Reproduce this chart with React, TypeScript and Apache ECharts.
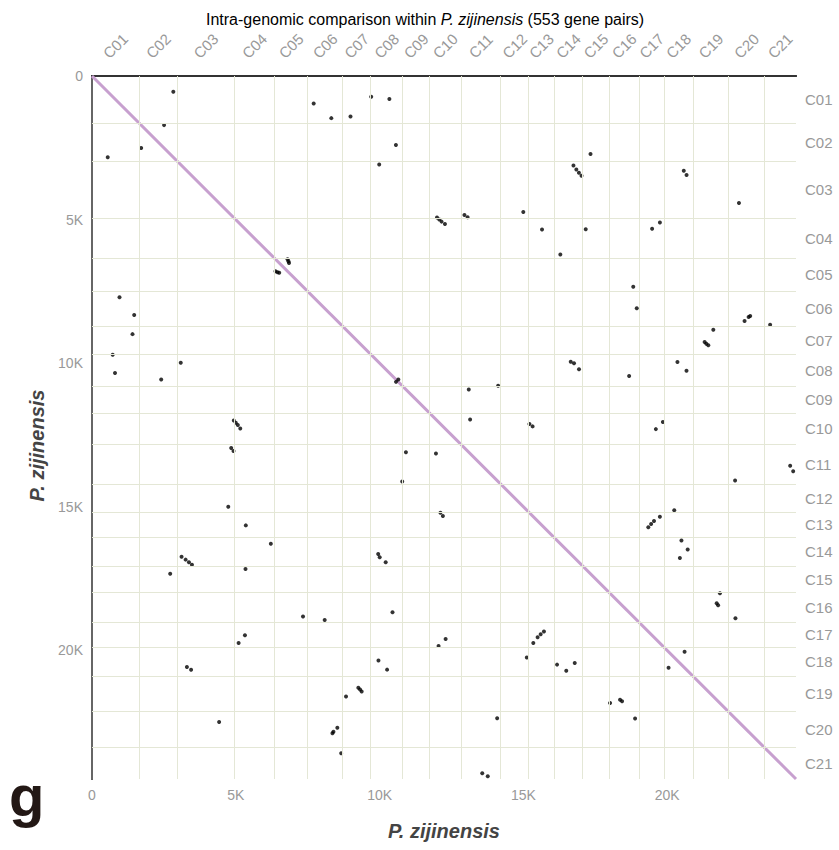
import React, { useEffect, useRef } from 'react';
import * as echarts from 'echarts';

// Chromosome names and their boundaries (cumulative gene index)
const chromosomes = ['C01', 'C02', 'C03', 'C04', 'C05', 'C06', 'C07', 'C08', 'C09', 'C10', 'C11', 'C12', 'C13', 'C14', 'C15', 'C16', 'C17', 'C18', 'C19', 'C20', 'C21'];
const boundaries = [0, 1630, 2975, 4945, 6350, 7490, 8710, 9685, 10795, 11735, 12825, 14210, 15180, 16058, 17063, 17973, 19027, 19882, 20900, 22133, 23376, 24478];
const genomeLength = 24478;
const tickStep = 5000;
const pairCount = 553;
const speciesName = 'P. zijinensis';

// Syntenic gene pairs read from the upper triangle [gene index X, gene index Y]
const pairs: [number, number][] = [
  [2827, 547],
  [7707, 957],
  [8321, 1467],
  [8988, 1409],
  [9708, 720],
  [10340, 800],
  [2505, 1710],
  [10567, 2406],
  [9986, 3085],
  [16740, 3115], [16840, 3255], [16930, 3370], [17020, 3475],
  [17333, 2719],
  [20576, 3300], [20673, 3445],
  [22495, 4420],
  [11995, 4930], [12075, 5000], [12155, 5070], [12272, 5155],
  [12950, 4840], [13060, 4920],
  [14996, 4738],
  [15647, 5348],
  [17167, 5337],
  [16284, 6218],
  [19475, 5318],
  [19746, 5098],
  [6800, 6380], [6830, 6450], [6850, 6510],
  [18819, 7337],
  [18941, 8090],
  [22690, 8530], [22830, 8395], [22885, 8360],
  [23578, 8664],
  [21602, 8832],
  [21300, 9260], [21360, 9320], [21430, 9377],
  [16645, 9950], [16760, 10003], [16933, 10212],
  [18675, 10449],
  [20355, 9960], [20670, 10260],
  [10650, 10570],
  [14121, 10786],
  [13100, 10915],
  [13147, 11959],
  [15210, 12115], [15320, 12200],
  [19850, 12050], [19605, 12295],
  [24275, 13570], [24380, 13760],
  [22360, 14087],
  [20245, 15118],
  [19746, 15344],
  [19343, 15714], [19440, 15600], [19541, 15494],
  [20495, 16170], [20712, 16490], [20440, 16785],
  [21834, 18013],
  [21720, 18360], [21770, 18430],
  [22373, 18883],
  [20604, 20047],
];

const FONT = 'Arial, "Liberation Sans", Helvetica, sans-serif';

export default function App() {
  const ref = useRef<HTMLDivElement>(null);

  useEffect(() => {
    if (!ref.current) return;
    const chart = echarts.init(ref.current, null, { renderer: 'svg' });

    const centers = chromosomes.map((_, i) => (boundaries[i] + boundaries[i + 1]) / 2);
    const nameAt = (v: number) => {
      const idx = centers.findIndex((c) => Math.abs(c - v) < 1e-6);
      return idx >= 0 ? chromosomes[idx] : '';
    };
    const points: number[][] = [];
    pairs.forEach(([a, b]) => {
      points.push([a, b]);
      points.push([b, a]);
    });
    const inner = boundaries.slice(1, -1);
    const gridLines: any[] = [];
    inner.forEach((b) => {
      gridLines.push({ xAxis: b });
      gridLines.push({ yAxis: b });
    });
    const kFmt = (v: number) => (v === 0 ? '0' : `${v / 1000}K`);

    const option: any = {
      animation: false,
      backgroundColor: '#ffffff',
      title: {
        text: `{a|Intra-genomic comparison within }{b|${speciesName}}{a| (${pairCount} gene pairs)}`,
        left: 201,
        top: 6,
        textStyle: {
          fontWeight: 'normal',
          rich: {
            a: { fontSize: 16, color: '#000', fontFamily: FONT, fontWeight: 'normal' },
            b: { fontSize: 16, color: '#000', fontFamily: FONT, fontStyle: 'italic', fontWeight: 'normal' },
          },
        },
      },
      grid: { left: 92, top: 76, width: 704, height: 703, containLabel: false },
      xAxis: [
        {
          type: 'value',
          position: 'bottom',
          min: 0,
          max: genomeLength,
          interval: tickStep,
          name: speciesName,
          nameLocation: 'middle',
          nameGap: 42,
          nameTextStyle: { fontSize: 20, fontWeight: 'bold', fontStyle: 'italic', color: '#444', fontFamily: FONT },
          axisLine: { show: true, lineStyle: { color: '#333', width: 2 } },
          axisTick: { show: false },
          splitLine: { show: false },
          axisLabel: { color: '#999', fontSize: 14, fontFamily: FONT, margin: 9, formatter: kFmt, showMaxLabel: false },
        },
        {
          type: 'value',
          position: 'top',
          min: 0,
          max: genomeLength,
          axisLine: { show: true, lineStyle: { color: '#333', width: 2 } },
          axisTick: { show: false },
          splitLine: { show: false },
          axisLabel: {
            customValues: centers,
            formatter: nameAt,
            rotate: 45,
            align: 'center',
            verticalAlign: 'middle',
            margin: 30,
            color: '#999',
            fontSize: 15,
            fontFamily: FONT,
          },
        },
      ],
      yAxis: [
        {
          type: 'value',
          position: 'left',
          inverse: true,
          min: 0,
          max: genomeLength,
          interval: tickStep,
          name: speciesName,
          nameLocation: 'middle',
          nameGap: 44,
          nameTextStyle: { fontSize: 20, fontWeight: 'bold', fontStyle: 'italic', color: '#444', fontFamily: FONT, padding: [0, 36, 0, 0] },
          axisLine: { show: true, lineStyle: { color: '#222', width: 2 } },
          axisTick: { show: false },
          splitLine: { show: false },
          axisLabel: { color: '#999', fontSize: 14, fontFamily: FONT, margin: 9, formatter: kFmt, showMaxLabel: false },
        },
        {
          type: 'value',
          position: 'right',
          inverse: true,
          min: 0,
          max: genomeLength,
          axisLine: { show: true, lineStyle: { color: '#666', width: 2 } },
          axisTick: { show: false },
          splitLine: { show: false },
          axisLabel: {
            customValues: centers,
            formatter: nameAt,
            margin: 9,
            color: '#999',
            fontSize: 15,
            fontFamily: FONT,
          },
        },
      ],
      series: [
        {
          type: 'scatter',
          name: 'boundaries',
          xAxisIndex: 0,
          yAxisIndex: 0,
          data: [],
          z: 1,
          silent: true,
          markLine: {
            silent: true,
            symbol: ['none', 'none'],
            label: { show: false },
            lineStyle: { color: '#e4e7d6', width: 1, type: 'solid' },
            emphasis: { disabled: true },
            animation: false,
            data: gridLines,
          },
        },
        {
          type: 'line',
          name: 'diagonal',
          xAxisIndex: 0,
          yAxisIndex: 0,
          data: [[0, 0], [genomeLength, genomeLength]],
          showSymbol: false,
          symbol: 'none',
          lineStyle: { color: '#c7a0cf', width: 3 },
          z: 2,
          silent: true,
        },
        {
          type: 'scatter',
          name: 'pairs',
          xAxisIndex: 0,
          yAxisIndex: 0,
          data: points,
          symbol: 'circle',
          symbolSize: 4,
          itemStyle: { color: '#000' },
          z: 3,
          silent: true,
        },
      ],
      graphic: [
        {
          type: 'text',
          left: 9,
          top: 766,
          style: { text: 'g', fontSize: 58, fontWeight: 'bold', fill: '#231815', fontFamily: FONT },
        },
      ],
    };

    chart.setOption(option);
    return () => chart.dispose();
  }, []);

  return <div ref={ref} style={{ position: 'fixed', left: 0, top: 0, width: 839, height: 850 }} />;
}
